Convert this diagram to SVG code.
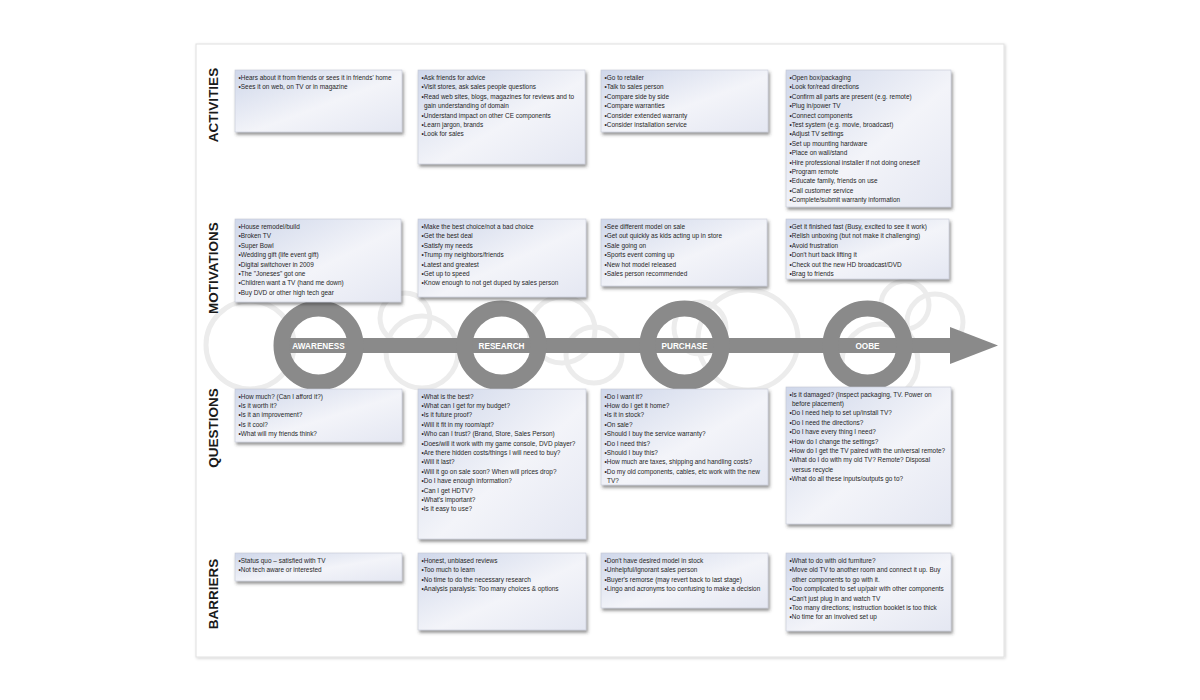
<svg xmlns="http://www.w3.org/2000/svg" width="1200" height="700" viewBox="0 0 1200 700">
<defs>
<linearGradient id="boxg" x1="0" y1="0" x2="1" y2="1">
<stop offset="0" stop-color="#cfd7ea"/>
<stop offset="0.55" stop-color="#f3f4f9"/>
<stop offset="1" stop-color="#e4e7f2"/>
</linearGradient>
<filter id="sh" x="-10%" y="-10%" width="125%" height="135%">
<feDropShadow dx="1.5" dy="2.5" stdDeviation="1.8" flood-color="#3a3a3a" flood-opacity="0.55"/>
</filter>
<filter id="pageSh" x="-5%" y="-5%" width="110%" height="110%">
<feDropShadow dx="1" dy="1" stdDeviation="1.5" flood-color="#000" flood-opacity="0.18"/>
</filter>
</defs>
<style>
.box{fill:url(#boxg);stroke:#c3c7d3;stroke-width:0.6;filter:url(#sh)}
.t{font-family:"Liberation Sans",Arial,sans-serif;font-size:6.45px;fill:#262626}
.lbl{font-family:"Liberation Sans",Arial,sans-serif;font-size:13.5px;font-weight:bold;fill:#1a1a1a;text-anchor:middle}
.deco{fill:none;stroke:#ececec;stroke-width:5}
.ring{fill:none;stroke:#8a8a8a;stroke-width:16}
.stage{font-family:"Liberation Sans",Arial,sans-serif;font-size:8.2px;font-weight:bold;fill:#ffffff;text-anchor:middle}
.tl{fill:#8a8a8a}
</style>
<rect width="1200" height="700" fill="#ffffff"/>
<rect id="page" x="196" y="44" width="808" height="613" fill="#ffffff" stroke="#e0e0e0" stroke-width="1" filter="url(#pageSh)"/>

<g id="bg-circles">
<circle class="deco" cx="250" cy="345" r="44"/>
<circle class="deco" cx="405" cy="318" r="25"/>
<circle class="deco" cx="422" cy="352" r="36"/>
<circle class="deco" cx="562" cy="330" r="33"/>
<circle class="deco" cx="594" cy="355" r="28"/>
<circle class="deco" cx="700" cy="328" r="26"/>
<circle class="deco" cx="748" cy="340" r="50"/>
<circle class="deco" cx="905" cy="305" r="24"/>
<circle class="deco" cx="935" cy="322" r="28"/>
<circle class="deco" cx="880" cy="362" r="38"/>
</g>

<g id="connectors">
<rect class="tl" x="275" y="338" width="677" height="15"/>
<polygon class="tl" points="950,327 998,345.5 950,364"/>
</g>

<g id="stage-awareness"><circle class="ring" cx="318.5" cy="345.5" r="37"/><text class="stage" x="318.5" y="348.5">AWARENESS</text></g>
<g id="stage-research"><circle class="ring" cx="501.5" cy="345.5" r="37"/><text class="stage" x="501.5" y="348.5">RESEARCH</text></g>
<g id="stage-purchase"><circle class="ring" cx="684.5" cy="345.5" r="37"/><text class="stage" x="684.5" y="348.5">PURCHASE</text></g>
<g id="stage-oobe"><circle class="ring" cx="867.5" cy="345.5" r="37"/><text class="stage" x="867.5" y="348.5">OOBE</text></g>

<g id="row-labels">
<text class="lbl" transform="translate(218,105) rotate(-90)">ACTIVITIES</text>
<text class="lbl" transform="translate(218,268) rotate(-90)">MOTIVATIONS</text>
<text class="lbl" transform="translate(218,428) rotate(-90)">QUESTIONS</text>
<text class="lbl" transform="translate(218,594) rotate(-90)">BARRIERS</text>
</g>

<g id="act-awareness"><rect class="box" x="235" y="70" width="167" height="62"/>
<text class="t"><tspan x="238.5" y="80">•Hears about it from friends or sees it in friends' home</tspan><tspan x="238.5" dy="9.4">•Sees it on web, on TV or in magazine</tspan></text></g>

<g id="act-research"><rect class="box" x="418" y="70" width="167" height="94"/>
<text class="t"><tspan x="421.5" y="80">•Ask friends for advice</tspan><tspan x="421.5" dy="9.4">•Visit stores, ask sales people questions</tspan><tspan x="421.5" dy="9.4">•Read web sites, blogs, magazines for reviews and to</tspan><tspan x="424" dy="9.4">gain understanding of domain</tspan><tspan x="421.5" dy="9.4">•Understand impact on other CE components</tspan><tspan x="421.5" dy="9.4">•Learn jargon, brands</tspan><tspan x="421.5" dy="9.4">•Look for sales</tspan></text></g>

<g id="act-purchase"><rect class="box" x="601" y="70" width="167" height="62"/>
<text class="t"><tspan x="604.5" y="80">•Go to retailer</tspan><tspan x="604.5" dy="9.4">•Talk to sales person</tspan><tspan x="604.5" dy="9.4">•Compare side by side</tspan><tspan x="604.5" dy="9.4">•Compare warranties</tspan><tspan x="604.5" dy="9.4">•Consider extended warranty</tspan><tspan x="604.5" dy="9.4">•Consider installation service</tspan></text></g>

<g id="act-oobe"><rect class="box" x="786" y="70" width="165" height="137"/>
<text class="t"><tspan x="789.5" y="80">•Open box/packaging</tspan><tspan x="789.5" dy="9.4">•Look for/read directions</tspan><tspan x="789.5" dy="9.4">•Confirm all parts are present (e.g. remote)</tspan><tspan x="789.5" dy="9.4">•Plug in/power TV</tspan><tspan x="789.5" dy="9.4">•Connect components</tspan><tspan x="789.5" dy="9.4">•Test system (e.g. movie, broadcast)</tspan><tspan x="789.5" dy="9.4">•Adjust TV settings</tspan><tspan x="789.5" dy="9.4">•Set up mounting hardware</tspan><tspan x="789.5" dy="9.4">•Place on wall/stand</tspan><tspan x="789.5" dy="9.4">•Hire professional installer if not doing oneself</tspan><tspan x="789.5" dy="9.4">•Program remote</tspan><tspan x="789.5" dy="9.4">•Educate family, friends on use</tspan><tspan x="789.5" dy="9.4">•Call customer service</tspan><tspan x="789.5" dy="9.4">•Complete/submit warranty information</tspan></text></g>

<g id="mot-awareness"><rect class="box" x="235" y="219" width="166" height="83"/>
<text class="t"><tspan x="238.5" y="229">•House remodel/build</tspan><tspan x="238.5" dy="9.4">•Broken TV</tspan><tspan x="238.5" dy="9.4">•Super Bowl</tspan><tspan x="238.5" dy="9.4">•Wedding gift (life event gift)</tspan><tspan x="238.5" dy="9.4">•Digital switchover in 2009</tspan><tspan x="238.5" dy="9.4">•The "Joneses" got one</tspan><tspan x="238.5" dy="9.4">•Children want a TV (hand me down)</tspan><tspan x="238.5" dy="9.4">•Buy DVD or other high tech gear</tspan></text></g>

<g id="mot-research"><rect class="box" x="418" y="219" width="168" height="78"/>
<text class="t"><tspan x="421.5" y="229">•Make the best choice/not a bad choice</tspan><tspan x="421.5" dy="9.4">•Get the best deal</tspan><tspan x="421.5" dy="9.4">•Satisfy my needs</tspan><tspan x="421.5" dy="9.4">•Trump my neighbors/friends</tspan><tspan x="421.5" dy="9.4">•Latest and greatest</tspan><tspan x="421.5" dy="9.4">•Get up to speed</tspan><tspan x="421.5" dy="9.4">•Know enough to not get duped by sales person</tspan></text></g>

<g id="mot-purchase"><rect class="box" x="601" y="219" width="166" height="67"/>
<text class="t"><tspan x="604.5" y="229">•See different model on sale</tspan><tspan x="604.5" dy="9.4">•Get out quickly as kids acting up in store</tspan><tspan x="604.5" dy="9.4">•Sale going on</tspan><tspan x="604.5" dy="9.4">•Sports event coming up</tspan><tspan x="604.5" dy="9.4">•New hot model released</tspan><tspan x="604.5" dy="9.4">•Sales person recommended</tspan></text></g>

<g id="mot-oobe"><rect class="box" x="786" y="219" width="163" height="60"/>
<text class="t"><tspan x="789.5" y="229">•Get it finished fast (Busy, excited to see it work)</tspan><tspan x="789.5" dy="9.4">•Relish unboxing (but not make it challenging)</tspan><tspan x="789.5" dy="9.4">•Avoid frustration</tspan><tspan x="789.5" dy="9.4">•Don't hurt back lifting it</tspan><tspan x="789.5" dy="9.4">•Check out the new HD broadcast/DVD</tspan><tspan x="789.5" dy="9.4">•Brag to friends</tspan></text></g>

<g id="q-awareness"><rect class="box" x="235" y="389" width="167" height="53"/>
<text class="t"><tspan x="238.5" y="398.5">•How much? (Can I afford it?)</tspan><tspan x="238.5" dy="9.4">•Is it worth it?</tspan><tspan x="238.5" dy="9.4">•Is it an improvement?</tspan><tspan x="238.5" dy="9.4">•Is it cool?</tspan><tspan x="238.5" dy="9.4">•What will my friends think?</tspan></text></g>

<g id="q-research"><rect class="box" x="418" y="389" width="168" height="150"/>
<text class="t"><tspan x="421.5" y="398.5">•What is the best?</tspan><tspan x="421.5" dy="9.4">•What can I get for my budget?</tspan><tspan x="421.5" dy="9.4">•Is it future proof?</tspan><tspan x="421.5" dy="9.4">•Will it fit in my room/apt?</tspan><tspan x="421.5" dy="9.4">•Who can I trust? (Brand, Store, Sales Person)</tspan><tspan x="421.5" dy="9.4">•Does/will it work with my game console, DVD player?</tspan><tspan x="421.5" dy="9.4">•Are there hidden costs/things I will need to buy?</tspan><tspan x="421.5" dy="9.4">•Will it last?</tspan><tspan x="421.5" dy="9.4">•Will it go on sale soon? When will prices drop?</tspan><tspan x="421.5" dy="9.4">•Do I have enough information?</tspan><tspan x="421.5" dy="9.4">•Can I get HDTV?</tspan><tspan x="421.5" dy="9.4">•What's important?</tspan><tspan x="421.5" dy="9.4">•Is it easy to use?</tspan></text></g>

<g id="q-purchase"><rect class="box" x="601" y="389" width="167" height="96"/>
<text class="t"><tspan x="604.5" y="398.5">•Do I want it?</tspan><tspan x="604.5" dy="9.4">•How do I get it home?</tspan><tspan x="604.5" dy="9.4">•Is it in stock?</tspan><tspan x="604.5" dy="9.4">•On sale?</tspan><tspan x="604.5" dy="9.4">•Should I buy the service warranty?</tspan><tspan x="604.5" dy="9.4">•Do I need this?</tspan><tspan x="604.5" dy="9.4">•Should I buy this?</tspan><tspan x="604.5" dy="9.4">•How much are taxes, shipping and handling costs?</tspan><tspan x="604.5" dy="9.4">•Do my old components, cables, etc work with the new</tspan><tspan x="607" dy="9.4">TV?</tspan></text></g>

<g id="q-oobe"><rect class="box" x="786" y="387" width="165" height="137"/>
<text class="t"><tspan x="789.5" y="396.5">•Is it damaged? (Inspect packaging, TV. Power on</tspan><tspan x="792" dy="9.4">before placement)</tspan><tspan x="789.5" dy="9.4">•Do I need help to set up/install TV?</tspan><tspan x="789.5" dy="9.4">•Do I need the directions?</tspan><tspan x="789.5" dy="9.4">•Do I have every thing I need?</tspan><tspan x="789.5" dy="9.4">•How do I change the settings?</tspan><tspan x="789.5" dy="9.4">•How do I get the TV paired with the universal remote?</tspan><tspan x="789.5" dy="9.4">•What do I do with my old TV? Remote? Disposal</tspan><tspan x="792" dy="9.4">versus recycle</tspan><tspan x="789.5" dy="9.4">•What do all these inputs/outputs go to?</tspan></text></g>

<g id="bar-awareness"><rect class="box" x="235" y="553" width="167" height="28"/>
<text class="t"><tspan x="238.5" y="563">•Status quo – satisfied with TV</tspan><tspan x="238.5" dy="9.4">•Not tech aware or interested</tspan></text></g>

<g id="bar-research"><rect class="box" x="418" y="553" width="168" height="77"/>
<text class="t"><tspan x="421.5" y="563">•Honest, unbiased reviews</tspan><tspan x="421.5" dy="9.4">•Too much to learn</tspan><tspan x="421.5" dy="9.4">•No time to do the necessary research</tspan><tspan x="421.5" dy="9.4">•Analysis paralysis: Too many choices &amp; options</tspan></text></g>

<g id="bar-purchase"><rect class="box" x="601" y="553" width="167" height="55"/>
<text class="t"><tspan x="604.5" y="563">•Don't have desired model in stock</tspan><tspan x="604.5" dy="9.4">•Unhelpful/ignorant sales person</tspan><tspan x="604.5" dy="9.4">•Buyer's remorse (may revert back to last stage)</tspan><tspan x="604.5" dy="9.4">•Lingo and acronyms too confusing to make a decision</tspan></text></g>

<g id="bar-oobe"><rect class="box" x="786" y="553" width="165" height="78"/>
<text class="t"><tspan x="789.5" y="563">•What to do with old furniture?</tspan><tspan x="789.5" dy="9.4">•Move old TV to another room and connect it up. Buy</tspan><tspan x="792" dy="9.4">other components to go with it.</tspan><tspan x="789.5" dy="9.4">•Too complicated to set up/pair with other components</tspan><tspan x="789.5" dy="9.4">•Can't just plug in and watch TV</tspan><tspan x="789.5" dy="9.4">•Too many directions; instruction booklet is too thick</tspan><tspan x="789.5" dy="9.4">•No time for an involved set up</tspan></text></g>
</svg>
